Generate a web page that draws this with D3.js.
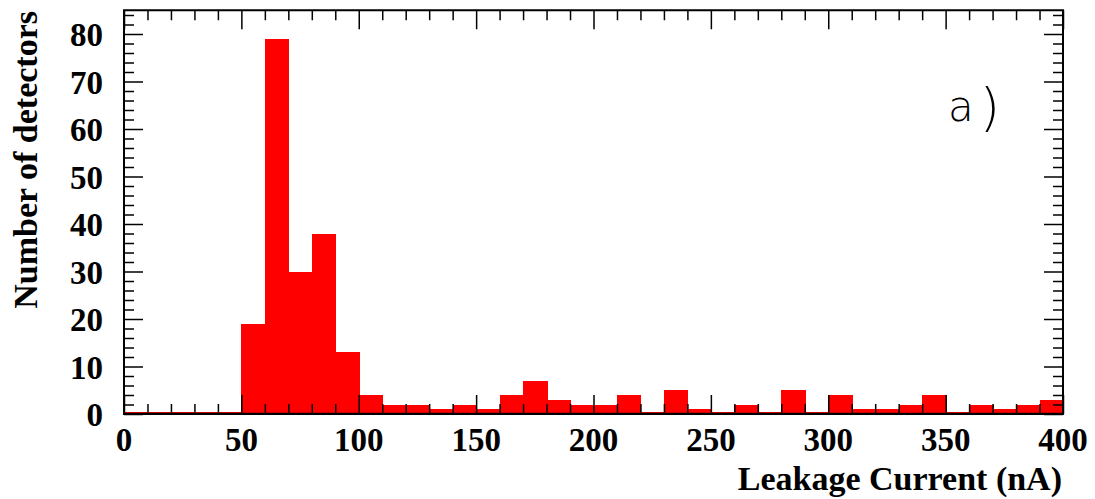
<!DOCTYPE html>
<html><head><meta charset="utf-8">
<script src="https://cdn.jsdelivr.net/npm/d3@7"></script>
<style>
html,body{margin:0;padding:0;background:#fff;}
svg{display:block;}
</style></head>
<body>
<script>
// Data: histogram of leakage current, bins of 10 nA from 0 to 400
const binEdges = d3.range(0, 400, 10);
const counts = [0,0,0,0,0, 19,79,30,38,13, 4,2,2,1,2, 1,4,7,3,2, 2,4,0,5,1, 0,2,0,5,0, 4,1,1,2,4, 0,2,1,2,3];
const binWidth = 10;
const xTickLabels = [0,50,100,150,200,250,300,350,400];
const yTickLabels = [0,10,20,30,40,50,60,70,80];
const xTitle = "Leakage Current (nA)";
const yTitle = "Number of detectors";
const panelLabel = "a)";

const W = 1095, H = 499;
const L = 124, R = 1063, T = 10.25, B = 414;

const svg = d3.select("body").append("svg").attr("width", W).attr("height", H);

const x = d3.scaleLinear().domain([0, 400]).range([L, R]);
const y = d3.scaleLinear().domain([0, 85]).range([B, T]);

// bars
svg.append("g").attr("shape-rendering", "crispEdges")
  .selectAll("rect").data(binEdges.map((e,i)=>({x0:e, c:counts[i]})))
  .join("rect")
  .attr("x", d => Math.round(x(d.x0)))
  .attr("width", d => Math.round(x(d.x0 + binWidth)) - Math.round(x(d.x0)) + 0.5)
  .attr("y", d => y(d.c))
  .attr("height", d => y(0) - y(d.c))
  .attr("fill", "#ff0000");

// red outline along baseline
svg.append("line").attr("x1", x(0)).attr("x2", x(400)).attr("y1", y(0)-1.5).attr("y2", y(0)-1.5)
  .attr("stroke", "#cc0000").attr("stroke-width", 1);

const tickStyle = g => {
  g.select(".domain").remove();
  g.selectAll(".tick line").attr("stroke", "#000").attr("stroke-width", 1.5);
  g.selectAll(".tick text").remove();
};

const xMinor = d3.range(0, 401, 10);
const yMinor = d3.range(0, 86, 2);
const majorLen = 19, minorLen = 10;

// bottom ticks (inward)
svg.append("g").attr("transform", `translate(0,${B})`)
  .call(d3.axisBottom(x).tickValues(xMinor.filter(v => v % 50 !== 0)).tickSize(-minorLen)).call(tickStyle);
svg.append("g").attr("transform", `translate(0,${B})`)
  .call(d3.axisBottom(x).tickValues(xTickLabels).tickSize(-majorLen)).call(tickStyle);
// top ticks
svg.append("g").attr("transform", `translate(0,${T})`)
  .call(d3.axisTop(x).tickValues(xMinor.filter(v => v % 50 !== 0)).tickSize(-minorLen)).call(tickStyle);
svg.append("g").attr("transform", `translate(0,${T})`)
  .call(d3.axisTop(x).tickValues(xTickLabels).tickSize(-majorLen)).call(tickStyle);
// left ticks
svg.append("g").attr("transform", `translate(${L},0)`)
  .call(d3.axisLeft(y).tickValues(yMinor.filter(v => v % 10 !== 0)).tickSize(-minorLen)).call(tickStyle);
svg.append("g").attr("transform", `translate(${L},0)`)
  .call(d3.axisLeft(y).tickValues(yTickLabels).tickSize(-majorLen)).call(tickStyle);
// right ticks
svg.append("g").attr("transform", `translate(${R},0)`)
  .call(d3.axisRight(y).tickValues(yMinor.filter(v => v % 10 !== 0)).tickSize(-minorLen)).call(tickStyle);
svg.append("g").attr("transform", `translate(${R},0)`)
  .call(d3.axisRight(y).tickValues(yTickLabels).tickSize(-majorLen)).call(tickStyle);

// frame
svg.append("rect").attr("x", L).attr("y", T).attr("width", R - L).attr("height", B - T)
  .attr("fill", "none").attr("stroke", "#000").attr("stroke-width", 2);

const font = "'Liberation Serif','Times New Roman',serif";

// x tick labels
svg.append("g").selectAll("text").data(xTickLabels).join("text")
  .attr("x", d => x(d)).attr("y", 451)
  .attr("text-anchor", "middle")
  .attr("font-family", font).attr("font-weight", "bold").attr("font-size", 33)
  .text(d => d);

// y tick labels
svg.append("g").selectAll("text").data(yTickLabels).join("text")
  .attr("x", 103).attr("y", d => y(d) + 12)
  .attr("text-anchor", "end")
  .attr("font-family", font).attr("font-weight", "bold").attr("font-size", 33)
  .text(d => d);

// axis titles
svg.append("text").attr("x", 1062).attr("y", 490)
  .attr("text-anchor", "end")
  .attr("font-family", font).attr("font-weight", "bold").attr("font-size", 34)
  .text(xTitle);

svg.append("text").attr("transform", "translate(37,11) rotate(-90)")
  .attr("text-anchor", "end")
  .attr("font-family", font).attr("font-weight", "bold").attr("font-size", 34)
  .text(yTitle);

// panel label
const pl = svg.append("text").attr("x", 948).attr("y", 121)
  .attr("font-family", "'DejaVu Sans',sans-serif").attr("font-weight", 200).attr("font-size", 42);
pl.append("tspan").text(panelLabel.slice(0, 1));
pl.append("tspan").attr("dx", 6).attr("font-size", 52).attr("dy", 4).text(panelLabel.slice(1));
</script>
</body></html>
